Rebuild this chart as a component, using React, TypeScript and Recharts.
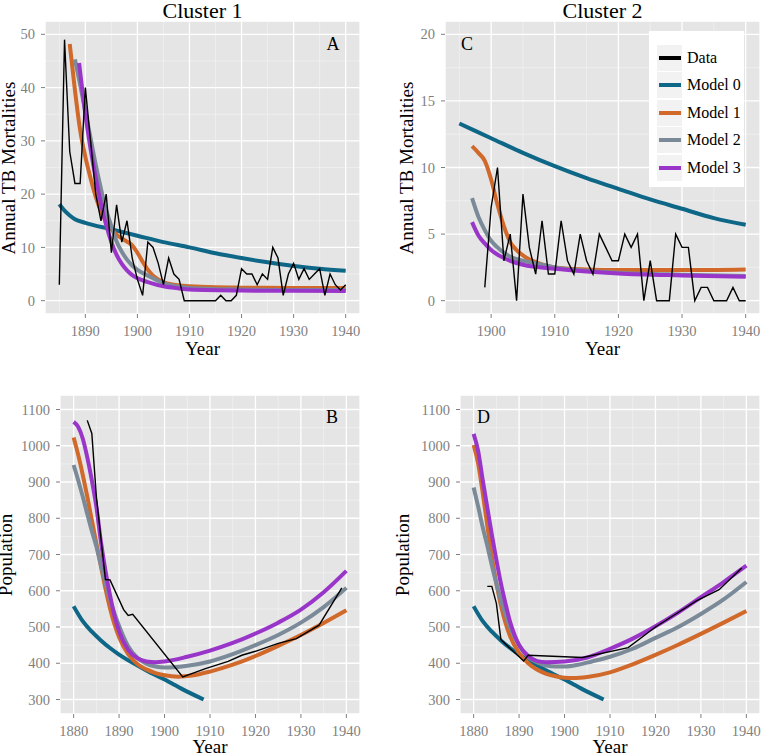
import React from 'react';
import { LineChart, Line, XAxis, YAxis, CartesianGrid, Legend } from 'recharts';

type Pt = [number, number];

// ---- Cluster 1, annual TB mortalities (panel A)
const aDataStart = 1885;
const aData = [
  3, 49, 28, 22, 22, 40, 30, 20, 15, 20,
  9, 18, 11, 15, 8, 4, 1, 11, 10, 7,
  3, 8, 5, 4, 0, 0, 0, 0, 0, 0,
  0, 1, 0, 0, 1, 6, 5, 5, 3, 5,
  4, 10, 8, 1, 5, 7, 4, 6, 4, 5,
  6, 1, 5, 3, 2, 3,
];
const aModel0: Pt[] = [[1885, 18.1], [1886, 16.9], [1887, 16.0], [1888, 15.3], [1890, 14.6], [1895, 13.4], [1900, 12.2], [1905, 11.0], [1910, 10.0], [1915, 8.9], [1920, 8.0], [1925, 7.2], [1930, 6.5], [1935, 6.0], [1940, 5.6]];
const aModel1: Pt[] = [[1887, 48.2], [1888, 39.5], [1889, 32], [1890, 27], [1891, 23], [1892, 19.5], [1893, 16.8], [1894, 14.8], [1895, 13.5], [1896, 12.4], [1897, 11.7], [1898, 11.1], [1899, 10.4], [1900, 9.0], [1901, 7.3], [1902, 5.8], [1903, 4.7], [1904, 4.0], [1905, 3.5], [1907, 3.0], [1910, 2.7], [1915, 2.5], [1920, 2.45], [1930, 2.4], [1940, 2.4]];
const aModel2: Pt[] = [[1888, 45.3], [1889, 40.5], [1890, 35.5], [1891, 30.5], [1892, 25.5], [1893, 21], [1894, 17], [1895, 14], [1896, 11.1], [1897, 9.2], [1898, 7.7], [1899, 6.6], [1900, 5.8], [1902, 4.7], [1903, 4.2], [1905, 3.3], [1908, 2.6], [1910, 2.4], [1920, 2.1], [1930, 2.0], [1940, 2.0]];
const aModel3: Pt[] = [[1888.8, 44.6], [1890, 35], [1891, 28.5], [1892, 23], [1893, 18.2], [1894, 14.2], [1895, 11], [1896, 8.6], [1897, 6.9], [1898, 5.7], [1899, 4.8], [1900, 4.2], [1902, 3.5], [1905, 2.7], [1908, 2.3], [1910, 2.1], [1920, 1.9], [1930, 1.85], [1940, 1.8]];

// ---- Cluster 2, annual TB mortalities (panel C)
const cDataStart = 1899;
const cData = [
  1, 7, 10, 3, 5, 0, 8, 4, 2, 6,
  2, 2, 6, 3, 2, 5, 3, 2, 5, 4,
  3, 3, 5, 4, 5, 0, 3, 0, 0, 0,
  5, 4, 4, 0, 1, 1, 0, 0, 0, 1,
  0, 0,
];
const cModel0: Pt[] = [[1895, 13.3], [1900, 12.2], [1905, 11.1], [1910, 10.1], [1915, 9.2], [1920, 8.4], [1925, 7.6], [1930, 6.9], [1935, 6.2], [1940, 5.7]];
const cModel1: Pt[] = [[1897, 11.6], [1898, 11.1], [1899, 10.5], [1900, 9.1], [1901, 7.2], [1902, 5.6], [1903, 4.4], [1904, 3.8], [1905, 3.4], [1906, 3.1], [1907, 2.9], [1910, 2.5], [1915, 2.35], [1920, 2.3], [1930, 2.3], [1940, 2.35]];
const cModel2: Pt[] = [[1897, 7.7], [1898, 6.3], [1899, 5.3], [1900, 4.5], [1901, 4.0], [1902, 3.6], [1903, 3.3], [1905, 3.0], [1907, 2.8], [1910, 2.5], [1915, 2.25], [1920, 2.1], [1930, 1.95], [1940, 1.85]];
const cModel3: Pt[] = [[1897, 5.9], [1898, 4.9], [1899, 4.3], [1900, 3.8], [1902, 3.2], [1905, 2.7], [1910, 2.4], [1915, 2.2], [1920, 2.05], [1930, 1.9], [1940, 1.8]];

// ---- Cluster 1, population (panel B)
const bData: Pt[] = [[1883, 1070], [1884, 1034], [1885, 860], [1886, 745], [1887, 631], [1888, 630], [1891, 548], [1892, 532], [1893, 535], [1904, 362], [1909, 385], [1914, 405], [1917, 422], [1920, 433], [1925, 455], [1929, 468], [1934, 505], [1939, 608]];
// model 0 population curve is the same in both clusters
const popModel0: Pt[] = [[1880, 557], [1882, 516], [1884, 487], [1886, 463], [1888, 442], [1890, 424], [1893, 401], [1896, 380], [1900, 355], [1904, 328], [1908.6, 300]];
const bModel1: Pt[] = [[1880, 1023], [1881, 975], [1882, 920], [1883, 860], [1884, 795], [1885, 731], [1886, 668], [1887, 606], [1888, 552], [1889, 507], [1890, 472], [1892, 425], [1894, 398], [1896, 383], [1898, 373], [1900, 367], [1903, 363], [1906, 366], [1910, 377], [1915, 396], [1920, 420], [1925, 448], [1930, 478], [1935, 511], [1940, 546]];
const bModel2: Pt[] = [[1880, 947], [1881, 905], [1882, 860], [1883, 812], [1884, 765], [1885, 722], [1886, 670], [1887, 622], [1888, 577], [1889, 537], [1890, 503], [1892, 447], [1894, 415], [1896, 399], [1898, 391], [1900, 388], [1902, 389], [1905, 393], [1910, 405], [1915, 425], [1920, 450], [1925, 478], [1930, 512], [1935, 555], [1940, 608]];
const bModel3: Pt[] = [[1880, 1066], [1881, 1052], [1882, 1020], [1883, 968], [1884, 905], [1885, 832], [1886, 735], [1887, 655], [1888, 588], [1889, 530], [1890, 488], [1892, 437], [1894, 414], [1896, 405], [1898, 403], [1900, 405], [1905, 418], [1910, 435], [1915, 456], [1920, 482], [1925, 512], [1930, 548], [1935, 596], [1940, 655]];

// ---- Cluster 2, population (panel D)
const dData: Pt[] = [[1883, 612], [1884, 612], [1885, 565], [1886, 465], [1891, 406], [1892, 422], [1904, 416], [1914, 443], [1920, 500], [1925, 540], [1929, 572], [1934, 603], [1939, 663]];
const dModel1: Pt[] = [[1880, 1002], [1881, 950], [1882, 870], [1883, 780], [1884, 695], [1885, 620], [1886, 560], [1887, 512], [1888, 475], [1890, 428], [1892, 400], [1894, 382], [1896, 371], [1898, 364], [1900, 360], [1902, 359], [1905, 362], [1910, 375], [1915, 397], [1920, 423], [1925, 451], [1930, 481], [1935, 512], [1940, 544]];
const dModel2: Pt[] = [[1880, 885], [1881, 832], [1882, 775], [1883, 725], [1884, 670], [1885, 620], [1886, 575], [1887, 535], [1888, 500], [1890, 450], [1892, 417], [1894, 402], [1896, 394], [1898, 391], [1900, 391], [1903, 396], [1906, 405], [1910, 418], [1915, 440], [1920, 470], [1925, 500], [1930, 536], [1935, 576], [1940, 624]];
const dModel3: Pt[] = [[1880, 1033], [1881, 985], [1882, 905], [1883, 830], [1884, 755], [1885, 685], [1886, 620], [1887, 565], [1888, 515], [1889, 478], [1890, 450], [1892, 420], [1894, 406], [1896, 403], [1900, 405], [1905, 416], [1910, 440], [1915, 468], [1920, 502], [1925, 540], [1930, 582], [1935, 624], [1940, 669]];

// ---- axes
const mortTicksA = [0, 10, 20, 30, 40, 50];
const mortMinorA = [5, 15, 25, 35, 45];
const yearTicksA = [1890, 1900, 1910, 1920, 1930, 1940];
const yearMinorA = [1885, 1895, 1905, 1915, 1925, 1935];
const mortTicksC = [0, 5, 10, 15, 20];
const mortMinorC = [2.5, 7.5, 12.5, 17.5];
const yearTicksC = [1900, 1910, 1920, 1930, 1940];
const yearMinorC = [1895, 1905, 1915, 1925, 1935];
const popTicks = [300, 400, 500, 600, 700, 800, 900, 1000, 1100];
const popMinor = [350, 450, 550, 650, 750, 850, 950, 1050];
const yearTicksPop = [1880, 1890, 1900, 1910, 1920, 1930, 1940];
const yearMinorPop = [1885, 1895, 1905, 1915, 1925, 1935];

const seriesNames = ['Data', 'Model 0', 'Model 1', 'Model 2', 'Model 3'];
const seriesColors = ['#000000', '#0e6787', '#d0692a', '#7a8a98', '#9a35c9'];

const FONT = '"Liberation Serif", "Times New Roman", serif';
const GREY = '#7f7f7f';

const rows = (pts: Pt[]) => pts.map(([x, v]) => ({ x, v }));
const yearly = (start: number, vals: number[]) => vals.map((v, i) => ({ x: start + i, v }));

const LegendBox = () => (
  <div style={{ background: '#fff', width: 95, height: 156, paddingTop: 13, boxSizing: 'border-box', fontFamily: FONT }}>
    {seriesNames.map((name, i) => (
      <div key={name} style={{ display: 'flex', alignItems: 'center', height: 27.5, marginLeft: 8 }}>
        <div style={{ width: 25, height: 26, background: '#f2f2f2', display: 'flex', alignItems: 'center', justifyContent: 'center' }}>
          <div style={{ width: 22, height: 4, background: seriesColors[i] }} />
        </div>
        <span style={{ marginLeft: 5, fontSize: 16, color: '#000', fontFamily: FONT }}>{name}</span>
      </div>
    ))}
  </div>
);

interface PanelProps {
  width: number;
  height: number;
  top: number;
  right: number;
  yWidth: number;
  xHeight: number;
  xDomain: [number, number];
  yDomain: [number, number];
  xTicks: number[];
  yTicks: number[];
  xMinor: number[];
  yMinor: number[];
  data: { x: number; v: number }[];
  models: Pt[][];
  legend?: boolean;
}

const Panel = (p: PanelProps) => {
  const tick = { fill: GREY, fontSize: 14.5, fontFamily: FONT };
  return (
    <LineChart width={p.width} height={p.height} margin={{ top: p.top, right: p.right, left: 0, bottom: 0 }}>
      <CartesianGrid fill="#e5e5e5" fillOpacity={1} stroke="#f2f2f2" strokeWidth={0.7} verticalValues={p.xMinor} horizontalValues={p.yMinor} />
      <CartesianGrid stroke="#ffffff" strokeWidth={1.3} />
      <XAxis type="number" dataKey="x" domain={p.xDomain} ticks={p.xTicks} interval={0} allowDataOverflow
        height={p.xHeight} axisLine={false} tickSize={4} tickMargin={8} tickLine={{ stroke: GREY }} tick={tick} />
      <YAxis type="number" domain={p.yDomain} ticks={p.yTicks} interval={0} allowDataOverflow
        width={p.yWidth} axisLine={false} tickSize={4} tickMargin={6} tickLine={{ stroke: GREY }} tick={tick} />
      {p.models.map((m, i) => (
        <Line key={i} data={rows(m)} dataKey="v" name={seriesNames[i + 1]} type="monotone" stroke={seriesColors[i + 1]}
          strokeWidth={4} dot={false} activeDot={false} isAnimationActive={false} />
      ))}
      <Line data={p.data} dataKey="v" name="Data" type="linear" stroke="#000" strokeWidth={1.4} dot={false}
        activeDot={false} isAnimationActive={false} />
      {p.legend && (
        <Legend layout="vertical" align="center" verticalAlign="middle"
          wrapperStyle={{ left: 269, top: 31, width: 95, height: 156 }} content={() => <LegendBox />} />
      )}
    </LineChart>
  );
};

const txt = { fontFamily: FONT, fill: '#000' };

export default function App() {
  return (
    <div style={{ position: 'absolute', left: 0, top: 0, width: 761, height: 755, background: '#fff', overflow: 'hidden' }}>
      <div style={{ position: 'absolute', left: 0, top: 0 }}>
        <Panel width={380} height={380} top={21} right={20} yWidth={45} xHeight={66}
          xDomain={[1882.25, 1942.75]} yDomain={[-2.5, 52.5]} xTicks={yearTicksA} yTicks={mortTicksA}
          xMinor={yearMinorA} yMinor={mortMinorA} data={yearly(aDataStart, aData)}
          models={[aModel0, aModel1, aModel2, aModel3]} />
      </div>
      <div style={{ position: 'absolute', left: 380, top: 0 }}>
        <Panel width={381} height={380} top={21} right={1} yWidth={65} xHeight={66}
          xDomain={[1892.75, 1942.25]} yDomain={[-1, 21]} xTicks={yearTicksC} yTicks={mortTicksC}
          xMinor={yearMinorC} yMinor={mortMinorC} data={yearly(cDataStart, cData)}
          models={[cModel0, cModel1, cModel2, cModel3]} legend />
      </div>
      <div style={{ position: 'absolute', left: 0, top: 380 }}>
        <Panel width={380} height={375} top={15} right={20} yWidth={60} xHeight={41}
          xDomain={[1877, 1943]} yDomain={[260, 1140]} xTicks={yearTicksPop} yTicks={popTicks}
          xMinor={yearMinorPop} yMinor={popMinor} data={rows(bData)}
          models={[popModel0, bModel1, bModel2, bModel3]} />
      </div>
      <div style={{ position: 'absolute', left: 380, top: 380 }}>
        <Panel width={381} height={375} top={15} right={1} yWidth={80} xHeight={41}
          xDomain={[1877, 1943]} yDomain={[260, 1140]} xTicks={yearTicksPop} yTicks={popTicks}
          xMinor={yearMinorPop} yMinor={popMinor} data={rows(dData)}
          models={[popModel0, dModel1, dModel2, dModel3]} />
      </div>
      <svg width={761} height={755} style={{ position: 'absolute', left: 0, top: 0, pointerEvents: 'none' }}>
        <text x={202.5} y={18} textAnchor="middle" fontSize={22} style={txt}>Cluster 1</text>
        <text x={602.5} y={18} textAnchor="middle" fontSize={22} style={txt}>Cluster 2</text>
        <text x={202.5} y={355} textAnchor="middle" fontSize={19} style={txt}>Year</text>
        <text x={602.5} y={355} textAnchor="middle" fontSize={19} style={txt}>Year</text>
        <text x={210} y={753} textAnchor="middle" fontSize={19} style={txt}>Year</text>
        <text x={610} y={753} textAnchor="middle" fontSize={19} style={txt}>Year</text>
        <text transform="translate(15,168) rotate(-90)" textAnchor="middle" fontSize={19} style={txt}>Annual TB Mortalities</text>
        <text transform="translate(413,168) rotate(-90)" textAnchor="middle" fontSize={19} style={txt}>Annual TB Mortalities</text>
        <text transform="translate(12,555) rotate(-90)" textAnchor="middle" fontSize={19} style={txt}>Population</text>
        <text transform="translate(409,555) rotate(-90)" textAnchor="middle" fontSize={19} style={txt}>Population</text>
        <text x={333} y={50} textAnchor="middle" fontSize={18} style={txt}>A</text>
        <text x={467} y={50} textAnchor="middle" fontSize={18} style={txt}>C</text>
        <text x={332} y={423} textAnchor="middle" fontSize={18} style={txt}>B</text>
        <text x={483.5} y={423} textAnchor="middle" fontSize={18} style={txt}>D</text>
      </svg>
    </div>
  );
}
